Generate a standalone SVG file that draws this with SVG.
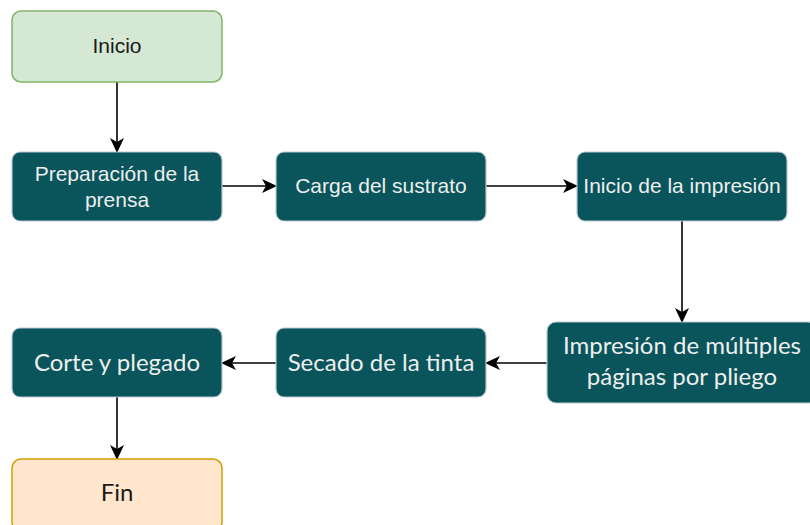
<svg xmlns="http://www.w3.org/2000/svg" width="810" height="525" viewBox="0 0 810 525">
<defs>
<marker id="arr" markerUnits="userSpaceOnUse" markerWidth="15" markerHeight="14" refX="14" refY="7" orient="auto">
<path d="M0,0 L15,7 L0,14 L4,7 Z" fill="#000"/>
</marker>
<style>
.teal{fill:#09555B;stroke:#BAC8D3;stroke-width:1.2}
.start{fill:#d5e8d4;stroke:#82b366;stroke-width:1.5}
.end{fill:#ffe6cc;stroke:#d79b00;stroke-width:1.5}
.ta{font-family:"Liberation Sans",Arial,sans-serif;font-size:21px;fill:#EEEEEE;text-anchor:middle}
.tc{font-family:Lato,"Open Sans",sans-serif;font-size:24px;fill:#EEEEEE;text-anchor:middle}
.dark{fill:#1a1a1a}
.edge{stroke:#000;stroke-width:1.6;fill:none;marker-end:url(#arr)}
</style>
</defs>
<rect width="810" height="525" fill="#ffffff"/>
<g id="edges">
<line class="edge" x1="117" y1="82" x2="117" y2="152"/>
<line class="edge" x1="222" y1="186" x2="276" y2="186"/>
<line class="edge" x1="486" y1="186" x2="577" y2="186"/>
<line class="edge" x1="682" y1="221" x2="682" y2="322"/>
<line class="edge" x1="547" y1="363" x2="486" y2="363"/>
<line class="edge" x1="276" y1="363" x2="222" y2="363"/>
<line class="edge" x1="117" y1="397" x2="117" y2="459"/>
</g>
<g id="inicio">
<rect class="start" x="12" y="11" width="210" height="71" rx="9"/>
<text class="ta dark" x="117" y="53">Inicio</text>
</g>
<g id="preparacion">
<rect class="teal" x="12" y="152" width="210" height="69" rx="8"/>
<text class="ta" x="117" y="181">Preparación de la</text>
<text class="ta" x="117" y="207">prensa</text>
</g>
<g id="carga">
<rect class="teal" x="276" y="152" width="210" height="69" rx="8"/>
<text class="ta" x="381" y="193">Carga del sustrato</text>
</g>
<g id="inicio-impresion">
<rect class="teal" x="577" y="152" width="210" height="69" rx="8"/>
<text class="ta" x="682" y="193">Inicio de la impresión</text>
</g>
<g id="impresion-multiples">
<rect class="teal" x="547" y="322" width="270" height="81" rx="9"/>
<text class="tc" x="682" y="354">Impresión de múltiples</text>
<text class="tc" x="682" y="385">páginas por pliego</text>
</g>
<g id="secado">
<rect class="teal" x="276" y="328" width="210" height="69" rx="8"/>
<text class="tc" x="381" y="371">Secado de la tinta</text>
</g>
<g id="corte">
<rect class="teal" x="12" y="328" width="210" height="69" rx="8"/>
<text class="tc" x="117" y="371">Corte y plegado</text>
</g>
<g id="fin">
<rect class="end" x="12" y="459" width="210" height="72" rx="9"/>
<text class="tc dark" x="117" y="501">Fin</text>
</g>
</svg>
